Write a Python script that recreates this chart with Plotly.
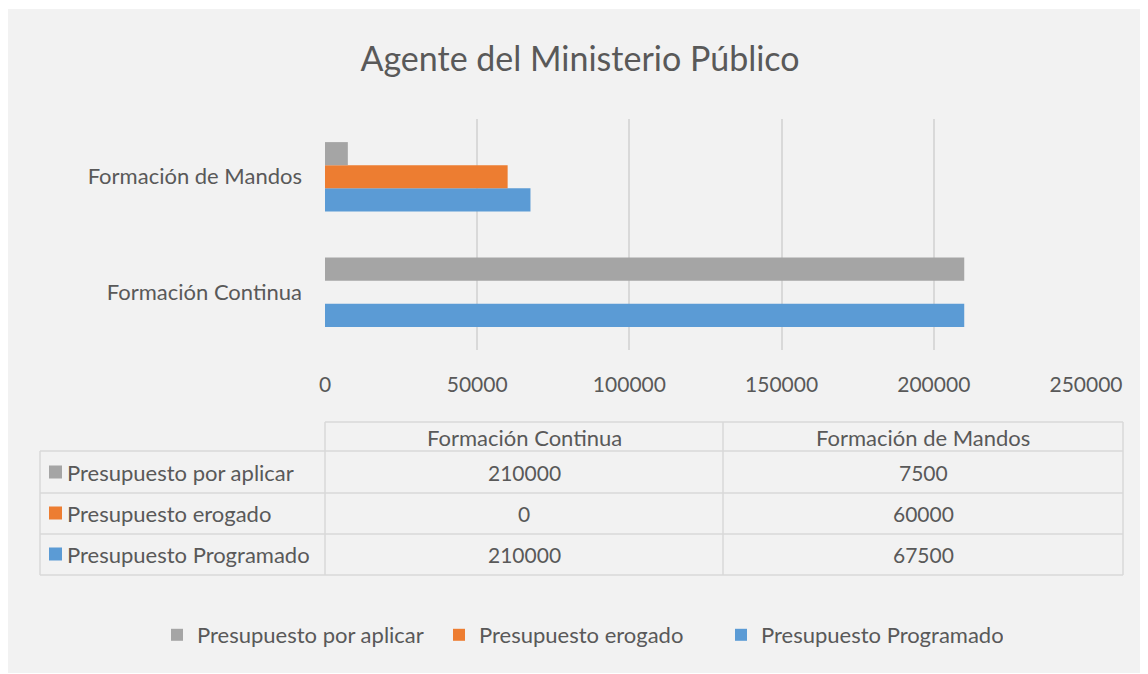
import plotly.graph_objects as go

# ---------------- data ----------------
categories = ["Formación Continua", "Formación de Mandos"]
series_names = ["Presupuesto Programado", "Presupuesto erogado", "Presupuesto por aplicar"]
programado = [210000, 67500]
erogado = [0, 60000]
por_aplicar = [210000, 7500]
colors = {"Presupuesto Programado": "#5B9BD5",
          "Presupuesto erogado": "#ED7D31",
          "Presupuesto por aplicar": "#A5A5A5"}
x_ticks = [0, 50000, 100000, 150000, 200000, 250000]
title_text = "Agente del Ministerio Público"

values = {"Presupuesto Programado": programado,
          "Presupuesto erogado": erogado,
          "Presupuesto por aplicar": por_aplicar}

# ---------------- geometry helpers (page pixels -> paper) ----------------
OFF = 8  # browser body margin
FIG_W, FIG_H = 1148 - OFF, 674 - OFF
# plot area in page pixels
L, R, T, B = 325, 1086, 119, 350
PW, PH = R - L, B - T


def px(x):
    return (x - L) / PW


def py(y):
    return (B - y) / PH


FONT = "Lato, 'Open Sans', sans-serif"
TXT = "#595959"
GRID = "#D9D9D9"
TXT_SIZE = 22
NUM_SIZE = 21

fig = go.Figure()
for name in series_names:
    fig.add_trace(go.Bar(
        y=categories, x=values[name], name=name, orientation="h",
        marker=dict(color=colors[name], line=dict(width=0)),
    ))

shapes = []
# gray chart background
shapes.append(dict(type="rect", xref="paper", yref="paper", layer="below",
                   x0=px(5), x1=px(1150), y0=py(673), y1=py(9),
                   fillcolor="#F2F2F2", line=dict(width=0)))

# data table lines
tbl_x = [40, 325, 723, 1123]
tbl_y = [422, 451, 493, 534, 575]
lw = 1.5
shapes.append(dict(type="line", xref="paper", yref="paper", x0=px(325), x1=px(1123),
                   y0=py(422), y1=py(422), line=dict(color=GRID, width=lw)))
for yy in tbl_y[1:]:
    shapes.append(dict(type="line", xref="paper", yref="paper", x0=px(40), x1=px(1123),
                       y0=py(yy), y1=py(yy), line=dict(color=GRID, width=lw)))
shapes.append(dict(type="line", xref="paper", yref="paper", x0=px(40), x1=px(40),
                   y0=py(451), y1=py(575), line=dict(color=GRID, width=lw)))
for xx in tbl_x[1:]:
    shapes.append(dict(type="line", xref="paper", yref="paper", x0=px(xx), x1=px(xx),
                       y0=py(422), y1=py(575), line=dict(color=GRID, width=lw)))

annotations = []
col_centers = [524, 923]
for cat, cx in zip(categories, col_centers):
    annotations.append(dict(x=px(cx), y=py(437), xref="paper", yref="paper", text=cat,
                            showarrow=False, xanchor="center", yanchor="middle",
                            font=dict(family=FONT, size=TXT_SIZE, color=TXT)))
row_order = ["Presupuesto por aplicar", "Presupuesto erogado", "Presupuesto Programado"]
row_centers = [472, 513, 554]
for name, cy in zip(row_order, row_centers):
    shapes.append(dict(type="rect", xref="paper", yref="paper",
                       x0=px(49), x1=px(62), y0=py(cy + 6.5), y1=py(cy - 6.5),
                       fillcolor=colors[name], line=dict(width=0)))
    annotations.append(dict(x=px(65), y=py(cy), xref="paper", yref="paper", text=name,
                            showarrow=False, xanchor="left", yanchor="middle",
                            font=dict(family=FONT, size=TXT_SIZE, color=TXT)))
    for v, cx in zip(values[name], col_centers):
        annotations.append(dict(x=px(cx), y=py(cy), xref="paper", yref="paper", text=str(v),
                                showarrow=False, xanchor="center", yanchor="middle",
                                font=dict(family=FONT, size=NUM_SIZE, color=TXT)))

fig.update_layout(
    width=FIG_W, height=FIG_H,
    margin=dict(l=L - OFF, r=1148 - R, t=T - OFF, b=674 - B, autoexpand=False),
    paper_bgcolor="white", plot_bgcolor="rgba(0,0,0,0)",
    title=dict(text=title_text, x=(580 - OFF) / FIG_W, xanchor="center",
               y=1 - (59 - OFF) / FIG_H, yanchor="middle", yref="container",
               font=dict(family=FONT, size=34, color=TXT)),
    barmode="group", bargap=0.4, bargroupgap=0,
    xaxis=dict(range=[0, 250000], tickvals=x_ticks, ticktext=[str(t) for t in x_ticks],
               showgrid=True, gridcolor=GRID, gridwidth=1.5, zeroline=False,
               showline=False, ticks="", ticklabelstandoff=20,
               tickfont=dict(family=FONT, size=NUM_SIZE, color=TXT)),
    yaxis=dict(categoryorder="array", categoryarray=categories, range=[-0.5, 1.5],
               showgrid=False, zeroline=False, showline=False, ticks="",
               ticklabelstandoff=22, tickfont=dict(family=FONT, size=TXT_SIZE, color=TXT)),
    legend=dict(orientation="h", traceorder="reversed",
                x=px(157), xanchor="left",
                y=py(635), yanchor="middle", bgcolor="rgba(0,0,0,0)",
                itemwidth=30, entrywidth=237, entrywidthmode="pixels",
                font=dict(family=FONT, size=TXT_SIZE, color=TXT)),
    shapes=shapes, annotations=annotations,
)

fig.write_html("out.html")
